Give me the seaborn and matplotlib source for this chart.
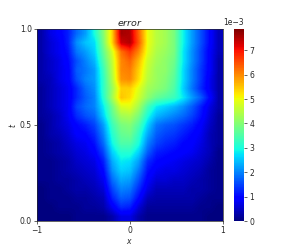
import numpy as np
import pandas as pd
import seaborn as sns
import matplotlib.pyplot as plt

x_vals = [-1.0, -0.9, -0.8, -0.7, -0.6, -0.5, -0.4, -0.3, -0.2, -0.1, 0.0, 0.1, 0.2, 0.3, 0.4, 0.5, 0.6, 0.7, 0.8, 0.9, 1.0]
t_vals = [1.0, 0.95, 0.9, 0.85, 0.8, 0.75, 0.7, 0.65, 0.6, 0.55, 0.5, 0.45, 0.4, 0.35, 0.3, 0.25, 0.2, 0.15, 0.1, 0.05, 0.0]

# error in units of 1e-3, one row per t
t100 = [.3, .7, .9, 1.2, 1.8, 2.2, 3.0, 4.0, 5.4, 7.6, 7.5, 6.3, 5.0, 4.5, 4.3, 3.9, 2.9, 2.2, 1.6, 1.0, .4]
t095 = [.3, .6, .8, 1.2, 2.1, 2.5, 2.7, 3.9, 5.4, 7.3, 7.5, 6.4, 5.0, 4.5, 4.3, 3.9, 2.9, 2.2, 1.6, 1.0, .4]
t090 = [.3, .6, .8, 1.1, 1.9, 2.2, 2.6, 3.7, 4.8, 6.2, 6.7, 6.0, 4.9, 4.4, 4.2, 3.9, 2.8, 2.1, 1.5, .9, .4]
t085 = [.3, .5, .7, 1.0, 1.6, 2.0, 2.4, 3.5, 4.6, 6.0, 6.3, 5.6, 4.7, 4.3, 4.1, 3.8, 2.8, 2.1, 1.5, .9, .3]
t080 = [.3, .5, .7, .9, 1.7, 1.9, 2.2, 3.3, 4.5, 6.0, 6.1, 5.4, 4.6, 4.2, 4.1, 3.7, 2.7, 2.0, 1.4, .9, .3]
t075 = [.3, .4, .7, .9, 1.6, 2.0, 2.2, 3.2, 4.4, 5.9, 6.0, 5.3, 4.5, 4.2, 4.0, 3.6, 2.7, 2.0, 1.4, .8, .3]
t070 = [.2, .4, .6, .8, 1.3, 1.8, 2.1, 3.2, 4.2, 5.4, 5.4, 4.9, 4.3, 4.1, 3.9, 3.5, 2.6, 1.9, 1.3, .8, .3]
t065 = [.2, .4, .6, .8, 1.3, 1.7, 2.0, 3.1, 4.3, 5.5, 5.3, 4.7, 4.1, 3.7, 3.5, 3.3, 2.8, 2.2, 1.7, 1.0, .3]
t060 = [.2, .4, .6, .8, 1.5, 1.8, 2.0, 2.8, 3.8, 4.8, 4.9, 4.3, 3.4, 2.8, 2.6, 2.4, 2.1, 1.7, 1.2, .7, .3]
t055 = [.2, .3, .5, .8, 1.3, 1.6, 1.8, 2.6, 3.6, 4.3, 4.4, 3.9, 3.0, 2.4, 2.2, 2.0, 1.8, 1.5, 1.1, .6, .2]
t050 = [.1, .3, .5, .7, 1.0, 1.2, 1.5, 2.2, 3.3, 3.9, 4.0, 3.5, 2.6, 1.9, 1.7, 1.6, 1.4, 1.2, .9, .5, .2]
t045 = [.1, .3, .4, .6, .9, 1.0, 1.3, 2.0, 3.1, 3.7, 3.8, 3.2, 2.3, 1.7, 1.5, 1.4, 1.2, 1.0, .8, .4, .2]
t040 = [.1, .2, .3, .5, .7, .8, 1.1, 1.8, 2.9, 3.5, 3.5, 3.0, 2.0, 1.5, 1.3, 1.2, 1.0, .9, .7, .4, .2]
t035 = [.1, .2, .3, .4, .6, .7, .9, 1.5, 2.6, 3.1, 3.1, 2.6, 1.7, 1.2, 1.1, 1.0, .9, .8, .6, .4, .1]
t030 = [.1, .1, .2, .3, .5, .6, .7, 1.2, 2.3, 2.8, 2.7, 2.2, 1.3, 1.0, .9, .8, .7, .6, .5, .3, .1]
t025 = [.1, .1, .2, .3, .4, .5, .6, 1.0, 2.1, 2.6, 2.5, 1.9, 1.1, .8, .7, .7, .6, .5, .4, .2, .1]
t020 = [.1, .1, .2, .2, .3, .4, .5, .8, 1.8, 2.3, 2.2, 1.6, .9, .6, .6, .5, .5, .4, .3, .2, .1]
t015 = [.0, .1, .1, .2, .3, .3, .4, .6, 1.5, 2.0, 1.9, 1.3, .7, .4, .4, .4, .4, .3, .3, .2, .1]
t010 = [.0, .1, .1, .1, .2, .2, .3, .4, 1.2, 1.7, 1.6, 1.0, .4, .3, .3, .3, .3, .3, .2, .1, .1]
t005 = [.0, .0, .1, .1, .1, .2, .2, .3, .8, 1.3, 1.2, .6, .2, .2, .2, .2, .2, .2, .1, .1, .0]
t000 = [.0, .0, .0, .0, .1, .1, .1, .1, .3, .7, .7, .3, .1, .1, .1, .1, .1, .1, .1, .0, .0]

rows = [t100, t095, t090, t085, t080, t075, t070, t065, t060, t055, t050,
        t045, t040, t035, t030, t025, t020, t015, t010, t005, t000]

err = pd.DataFrame(np.array(rows) * 1e-3, index=t_vals, columns=x_vals)
vmax = 7.85e-3

sns.set_style('ticks')
plt.rcParams['font.size'] = 5.5

fig = plt.figure(figsize=(2.99, 2.49), dpi=100)
ax = fig.add_axes([37 / 299, 1 - 221 / 249, 185.5 / 299, 191.5 / 249])
cax = fig.add_axes([234 / 299, 1 - 221 / 249, 10 / 299, 191.5 / 249])

sns.heatmap(err, cmap='jet', vmin=0, vmax=vmax, ax=ax, cbar_ax=cax)
# smooth the cells like the original image
ax.imshow(err.values, cmap='jet', vmin=0, vmax=vmax, interpolation='bilinear',
          extent=(0, len(x_vals), len(t_vals), 0), aspect='auto', zorder=2)

ax.set_xlim(0, len(x_vals))
ax.set_ylim(len(t_vals), 0)
ax.set_xticks([0, len(x_vals) / 2, len(x_vals)], ['\u22121', '0', '1'], rotation=0)
ax.set_yticks([len(t_vals), len(t_vals) / 2, 0], ['0.0', '0.5', '1.0'], rotation=0)
ax.tick_params(labelsize=5.5, length=2.2, width=0.5, pad=1.5)
ax.set_xlabel('$x$', fontsize=5.5, labelpad=1.5)
ax.set_ylabel('$t$', fontsize=5.5, labelpad=1)
ax.set_title('$error$', fontsize=6.8, pad=2.5)
for side in ax.spines.values():
    side.set_visible(True)
    side.set_linewidth(0.5)

cax.set_yticks(np.arange(0, 8) * 1e-3, [str(i) for i in range(8)])
cax.tick_params(labelsize=5.5, length=2.2, width=0.5, pad=1.5)
cax.text(1.0, 1.012, '1e\u22123', transform=cax.transAxes, ha='right', va='bottom', fontsize=5.5)

fig.savefig('out.png', dpi=100)
